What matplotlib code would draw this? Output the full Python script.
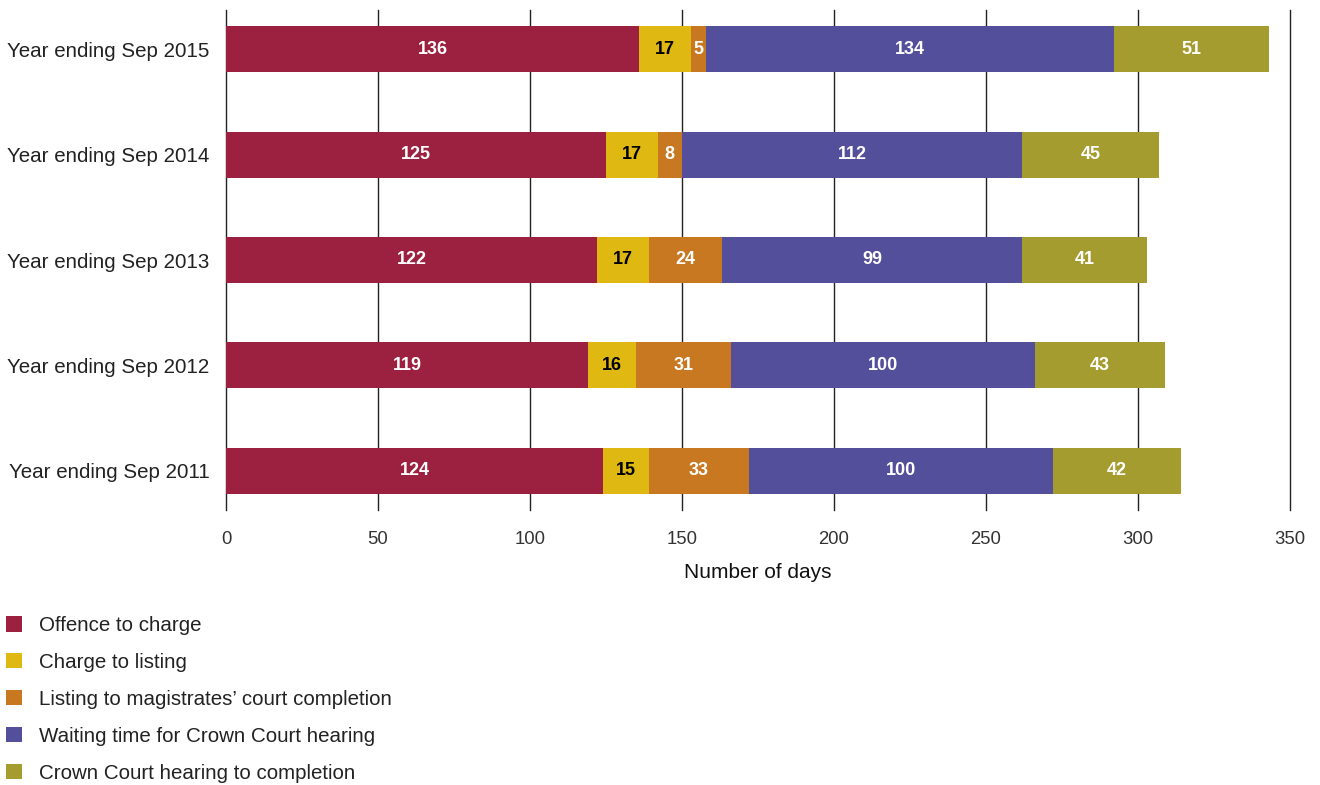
import matplotlib
matplotlib.use("Agg")
import matplotlib.pyplot as plt
from matplotlib.patches import Patch
import numpy as np

plt.rcParams['font.family'] = ['Liberation Sans', 'DejaVu Sans']

years = ["Year ending Sep 2015", "Year ending Sep 2014", "Year ending Sep 2013",
         "Year ending Sep 2012", "Year ending Sep 2011"]
series_names = ["Offence to charge", "Charge to listing",
                "Listing to magistrates\u2019 court completion",
                "Waiting time for Crown Court hearing",
                "Crown Court hearing to completion"]
offence_to_charge = [136, 125, 122, 119, 124]
charge_to_listing = [17, 17, 17, 16, 15]
listing_to_mags = [5, 8, 24, 31, 33]
waiting_crown = [134, 112, 99, 100, 100]
crown_to_completion = [51, 45, 41, 43, 42]
xticks = [0, 50, 100, 150, 200, 250, 300, 350]

series = [offence_to_charge, charge_to_listing, listing_to_mags, waiting_crown, crown_to_completion]
colors = ["#9C203F", "#E0B812", "#C97822", "#544F9A", "#A59C30"]
text_colors = ["white", "black", "white", "white", "white"]

fig = plt.figure(figsize=(13.2, 7.85), dpi=100)
ax = fig.add_axes([226/1320, 1-510/785, (1290-226)/1320, 500/785])

y = np.arange(len(years))
left = np.zeros(len(years))
for vals, c, tc in zip(series, colors, text_colors):
    vals = np.array(vals, dtype=float)
    bars = ax.barh(y, vals, left=left, height=0.436, color=c, zorder=3)
    ax.bar_label(bars, labels=[str(int(v)) for v in vals], label_type='center',
                 color=tc, fontsize=13, fontweight='bold')
    left += vals

ax.set_yticks(y)
ax.set_yticklabels(years, fontsize=14.8, color="#222222")
ax.set_ylim(4.37, -0.37)
ax.set_xlim(0, 350)
ax.set_xticks(xticks)
ax.set_xticklabels([str(t) for t in xticks], fontsize=13.3, color="#333333")
ax.tick_params(axis='both', length=0)
ax.tick_params(axis='x', pad=15)
ax.tick_params(axis='y', pad=12)
ax.grid(axis='x', color='#222222', linewidth=1, zorder=0)
for gl in ax.get_xgridlines():
    gl.set_clip_on(False)
for s in ax.spines.values():
    s.set_visible(False)
ax.set_xlabel("Number of days", fontsize=15, color="#111111", labelpad=11)

handles = [Patch(facecolor=c, edgecolor='none') for c in colors]
fig.legend(handles, series_names, loc='upper left', bbox_to_anchor=(0.0, 1-610/785),
           frameon=False, fontsize=14.8, handlelength=0.75, handleheight=0.75,
           labelspacing=0.87, handletextpad=0.85, borderaxespad=0, borderpad=0.3,
           labelcolor="#222222")

fig.savefig("out.png", dpi=100)
